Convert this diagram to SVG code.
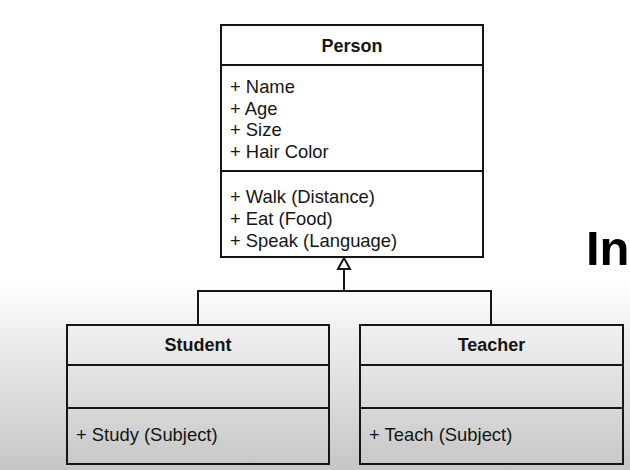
<svg xmlns="http://www.w3.org/2000/svg" width="630" height="470" viewBox="0 0 630 470">
<defs>
<linearGradient id="bg" x1="0" y1="0" x2="0" y2="470" gradientUnits="userSpaceOnUse">
<stop offset="0" stop-color="#ffffff"/>
<stop offset="0.6" stop-color="#ffffff"/>
<stop offset="0.72" stop-color="#ededed"/>
<stop offset="1" stop-color="#c6c6c6"/>
</linearGradient>
<style>
.box{fill:none;stroke:#151515;stroke-width:2}
.ln{fill:none;stroke:#151515;stroke-width:2}
.t{font-family:"Liberation Sans",Arial,sans-serif;font-size:18.4px;fill:#151515}
.h{font-family:"Liberation Sans",Arial,sans-serif;font-size:18px;font-weight:bold;fill:#151515;text-anchor:middle}
</style>
</defs>
<rect x="0" y="0" width="630" height="470" fill="url(#bg)"/>
<text x="586" y="265" font-family="Liberation Sans,Arial,sans-serif" font-size="49" font-weight="bold" fill="#000">In</text>
<g id="connectors">
<polyline class="ln" points="198,325 198,291 491,291 491,325"/>
<line class="ln" x1="344" y1="291" x2="344" y2="269"/>
<polygon points="344,258 338,269 350,269" fill="#ffffff" stroke="#151515" stroke-width="2"/>
</g>
<g id="person">
<rect x="221" y="25" width="262" height="232" fill="#ffffff" stroke="#151515" stroke-width="2"/>
<line class="ln" x1="221" y1="65" x2="483" y2="65"/>
<line class="ln" x1="221" y1="171" x2="483" y2="171"/>
<text class="h" x="352" y="52">Person</text>
<text class="t" x="230" y="92.5">+ Name</text>
<text class="t" x="230" y="114.5">+ Age</text>
<text class="t" x="230" y="135.5">+ Size</text>
<text class="t" x="230" y="157.5">+ Hair Color</text>
<text class="t" x="230" y="202.5">+ Walk (Distance)</text>
<text class="t" x="230" y="224.5">+ Eat (Food)</text>
<text class="t" x="230" y="246.5">+ Speak (Language)</text>
</g>
<g id="student">
<rect class="box" x="67" y="325" width="262" height="139"/>
<line class="ln" x1="67" y1="365" x2="329" y2="365"/>
<line class="ln" x1="67" y1="408" x2="329" y2="408"/>
<text class="h" x="198" y="351">Student</text>
<text class="t" x="76" y="441">+ Study (Subject)</text>
</g>
<g id="teacher">
<rect class="box" x="360" y="325" width="263" height="139"/>
<line class="ln" x1="360" y1="365" x2="623" y2="365"/>
<line class="ln" x1="360" y1="408" x2="623" y2="408"/>
<text class="h" x="491.5" y="351">Teacher</text>
<text class="t" x="369" y="441">+ Teach (Subject)</text>
</g>
</svg>
